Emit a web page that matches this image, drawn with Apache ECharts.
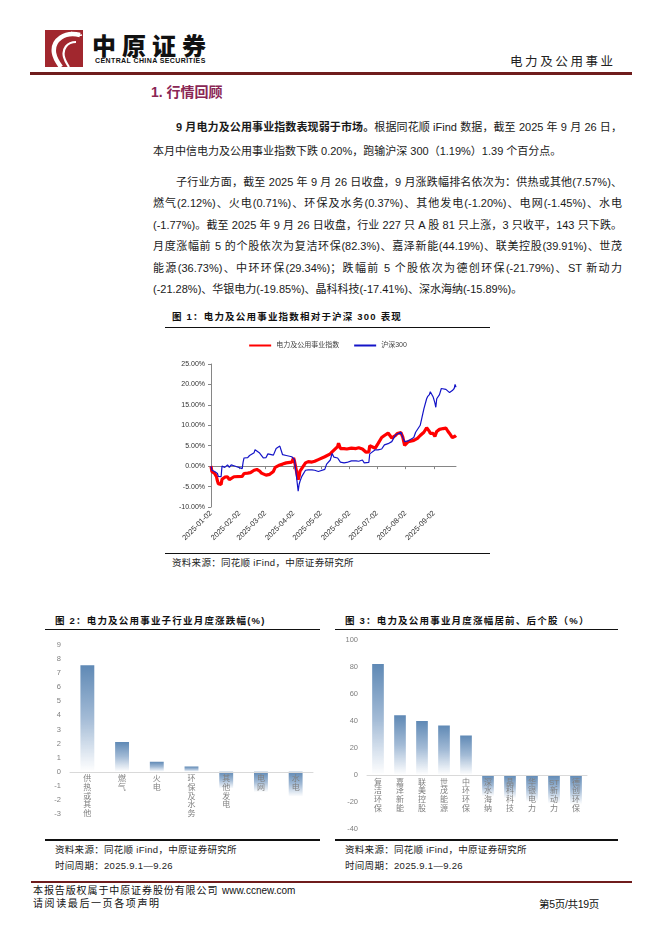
<!DOCTYPE html>
<html>
<head>
<meta charset="utf-8">
<script src="https://cdn.jsdelivr.net/npm/echarts@6/dist/echarts.min.js"></script>
<style>
  html, body { margin:0; padding:0; background:#fff; }
  body { width:662px; height:936px; position:relative; overflow:hidden;
         font-family:"Liberation Sans", "Noto Sans CJK SC", sans-serif; color:#1a1a1a; }
  .abs { position:absolute; white-space:nowrap; }
  .line { position:absolute; font-size:11px; line-height:16px; width:469px; left:153px; text-align:justify; text-align-last:justify; white-space:nowrap; }
  .line.last { text-align-last:left; }
  .ttl { position:absolute; font-size:9.5px; font-weight:bold; letter-spacing:1.2px; line-height:12px; color:#111; }
  .src { position:absolute; font-size:9.5px; letter-spacing:0.3px; line-height:12px; color:#222; }
  .hr { position:absolute; background:#111; }
</style>
</head>
<body>
<!-- header -->
<svg class="abs" style="left:45px;top:30px" width="38" height="37" viewBox="0 0 38 37">
  <rect width="38" height="37" fill="#a1272e"/>
  <path d="M35 5 C 20 1, 7 10, 9 23 C 10 29, 13 33, 16 37" stroke="#fff" stroke-width="4.5" fill="none"/>
  <path d="M31 12 C 22 12, 17 19, 19 27 C 20 31, 22 34, 24 37" stroke="#fff" stroke-width="2.2" fill="none"/>
  <path d="M26 2 C 29 5, 33 6, 37 5" stroke="#fff" stroke-width="1.5" fill="none"/>
</svg>
<div class="abs" style="left:92px;top:33px;font-size:24px;line-height:24px;font-weight:900;letter-spacing:6px;font-family:'Noto Sans CJK SC';color:#111">中原证券</div>
<div class="abs" style="left:95px;top:57px;font-size:7px;line-height:8px;font-weight:bold;letter-spacing:0.4px;color:#111">CENTRAL CHINA SECURITIES</div>
<div class="abs" style="left:510px;top:53px;font-size:12.5px;line-height:16px;letter-spacing:2.6px;color:#222;font-family:'Noto Sans CJK SC'">电力及公用事业</div>
<div class="abs" style="left:30px;top:72px;width:602px;height:2.5px;background:#6f1c1c"></div>

<div class="abs" style="left:151px;top:83px;font-size:14px;line-height:18px;font-weight:bold;color:#8a2654">1. 行情回顾</div>

<!-- body text -->
<div class="line" style="top:119px;left:176px;width:446px"><b>9 月电力及公用事业指数表现弱于市场。</b>根据同花顺 iFind 数据，截至 2025 年 9 月 26 日，</div>
<div class="line last" style="top:143px">本月中信电力及公用事业指数下跌 0.20%，跑输沪深 300（1.19%）1.39 个百分点。</div>

<div class="line" style="top:174px;left:176px;width:446px">子行业方面，截至 2025 年 9 月 26 日收盘，9 月涨跌幅排名依次为：供热或其他(7.57%)、</div>
<div class="line" style="top:195px">燃气(2.12%)、火电(0.71%)、环保及水务(0.37%)、其他发电(-1.20%)、电网(-1.45%)、水电</div>
<div class="line" style="top:217px">(-1.77%)。截至 2025 年 9 月 26 日收盘，行业 227 只 A 股 81 只上涨，3 只收平，143 只下跌。</div>
<div class="line" style="top:238px">月度涨幅前 5 的个股依次为复洁环保(82.3%)、嘉泽新能(44.19%)、联美控股(39.91%)、世茂</div>
<div class="line" style="top:260px">能源(36.73%)、中环环保(29.34%)；跌幅前 5 个股依次为德创环保(-21.79%)、ST 新动力</div>
<div class="line last" style="top:281px">(-21.28%)、华银电力(-19.85%)、晶科科技(-17.41%)、深水海纳(-15.89%)。</div>

<!-- figure 1 -->
<div class="ttl" style="left:172px;top:311px">图 1：电力及公用事业指数相对于沪深 300 表现</div>
<div class="hr" style="left:165px;top:327px;width:325px;height:1.3px"></div>
<div id="c1" class="abs" style="left:160px;top:330px;width:335px;height:222px"></div>
<div class="hr" style="left:165px;top:553px;width:325px;height:1.3px"></div>
<div class="src" style="left:172px;top:557px">资料来源：同花顺 iFind，中原证券研究所</div>

<!-- figure 2 -->
<div class="ttl" style="left:55px;top:615px">图 2：电力及公用事业子行业月度涨跌幅(%)</div>
<div class="hr" style="left:45px;top:629px;width:275px;height:1.3px"></div>
<div id="c2" class="abs" style="left:45px;top:632px;width:280px;height:205px"></div>
<div class="hr" style="left:45px;top:839px;width:275px;height:2.2px"></div>
<div class="src" style="left:55px;top:844px">资料来源：同花顺 iFind，中原证券研究所</div>
<div class="src" style="left:55px;top:860px">时间周期：2025.9.1—9.26</div>

<!-- figure 3 -->
<div class="ttl" style="left:345px;top:615px">图 3：电力及公用事业月度涨幅居前、后个股（%）</div>
<div class="hr" style="left:335px;top:629px;width:283px;height:1.3px"></div>
<div id="c3" class="abs" style="left:335px;top:632px;width:285px;height:205px"></div>
<div class="hr" style="left:335px;top:839px;width:283px;height:2.2px"></div>
<div class="src" style="left:345px;top:844px">资料来源：同花顺 iFind，中原证券研究所</div>
<div class="src" style="left:345px;top:860px">时间周期：2025.9.1—9.26</div>

<!-- footer -->
<div class="abs" style="left:31px;top:881px;width:601px;height:1.5px;background:#6f1c1c"></div>
<div class="abs" style="left:33px;top:884px;font-size:10px;line-height:13px;letter-spacing:0.9px;color:#111">本报告版权属于中原证券股份有限公司 <span style="letter-spacing:0">www.ccnew.com</span></div>
<div class="abs" style="left:33px;top:897px;font-size:10px;line-height:13px;letter-spacing:1.6px;color:#111">请阅读最后一页各项声明</div>
<div class="abs" style="left:539px;top:897px;font-size:10.5px;line-height:14px;color:#111;letter-spacing:-0.3px">第5页/共19页</div>

<script>
// ---------- Figure 1 data ----------
var tradeDates = ["2025-01-02","2025-01-03","2025-01-06","2025-01-07","2025-01-08","2025-01-09","2025-01-10","2025-01-13","2025-01-14","2025-01-15","2025-01-17","2025-01-20","2025-01-22","2025-01-24","2025-01-27",
"2025-02-05","2025-02-06","2025-02-07","2025-02-11","2025-02-13","2025-02-14","2025-02-18","2025-02-19","2025-02-21","2025-02-24","2025-02-26","2025-02-28",
"2025-03-03","2025-03-05","2025-03-07","2025-03-11","2025-03-13","2025-03-14","2025-03-18","2025-03-20","2025-03-21","2025-03-25","2025-03-27","2025-03-31",
"2025-04-02","2025-04-03","2025-04-07","2025-04-08","2025-04-09","2025-04-11","2025-04-15","2025-04-18","2025-04-22","2025-04-25","2025-04-29",
"2025-05-06","2025-05-08","2025-05-12","2025-05-14","2025-05-16","2025-05-20","2025-05-21","2025-05-23","2025-05-27","2025-05-30",
"2025-06-04","2025-06-09","2025-06-12","2025-06-16","2025-06-18","2025-06-20","2025-06-23","2025-06-24","2025-06-26","2025-06-30",
"2025-07-03","2025-07-07","2025-07-10","2025-07-14","2025-07-16","2025-07-18","2025-07-22","2025-07-24","2025-07-28","2025-07-30",
"2025-08-01","2025-08-05","2025-08-07","2025-08-11","2025-08-13","2025-08-15","2025-08-18","2025-08-20","2025-08-22","2025-08-25","2025-08-26","2025-08-28","2025-08-29",
"2025-09-01","2025-09-03","2025-09-04","2025-09-05","2025-09-08","2025-09-10","2025-09-12","2025-09-15","2025-09-17","2025-09-19","2025-09-22","2025-09-24","2025-09-25","2025-09-26"];
var csi300 = [0,-1.0,-1.3,-0.9,-1.2,-1.8,-2.5,-2.6,0.0,-0.2,-0.3,0.3,-0.3,0.3,0.1,
-0.6,1.0,2.0,2.1,2.6,2.5,3.3,4.0,4.1,3.2,2.9,2.0,
2.1,3.0,3.1,2.7,2.6,4.3,4.9,4.6,2.8,2.6,2.4,2.3,
2.2,1.6,-6.1,-4.5,-3.7,-2.5,-1.0,-0.9,-0.9,-1.0,-1.3,
-0.8,0.5,1.5,3.1,2.2,2.0,1.8,1.0,0.8,0.9,
1.3,1.3,1.2,1.5,0.8,0.8,0.9,3.0,3.2,4.0,
4.0,4.2,5.2,5.5,5.3,6.0,7.6,8.0,8.3,7.0,
6.0,6.2,6.4,7.0,8.3,8.5,10.0,12.0,14.0,16.5,17.0,17.5,18.2,
17.0,15.5,14.4,16.5,17.5,19.0,18.8,18.8,18.5,18.0,18.5,19.0,20.0,19.3];
var utilityIdx = [0,-1.3,-1.8,-2.1,-2.6,-3.6,-4.3,-4.5,-3.2,-2.8,-2.7,-2.6,-3.3,-3.0,-2.6,
-2.5,-2.1,-1.8,-1.7,-1.5,-1.6,-1.0,-0.9,-0.8,-1.2,-1.7,-1.8,
-2.2,-2.3,-2.0,-1.3,-0.3,0.0,0.3,0.4,0.5,0.8,1.0,1.0,
2.0,1.2,-3.3,-2.5,-1.2,-0.9,0.8,1.1,1.0,1.2,1.6,
2.3,2.1,3.0,3.5,3.4,4.8,5.6,4.3,4.3,4.2,
4.4,4.3,4.5,4.2,4.5,3.4,3.5,5.0,5.1,4.4,
5.5,7.0,7.5,8.1,7.5,6.9,7.5,8.0,8.2,7.1,
5.1,6.0,6.4,6.3,6.6,6.8,7.5,7.8,8.3,9.4,9.6,8.5,8.0,
8.0,7.3,7.5,8.5,9.0,9.3,9.2,9.3,8.6,8.0,7.0,6.8,7.3,7.5];
var xTickLabels = ["2025-01-02","2025-02-02","2025-03-02","2025-04-02","2025-05-02","2025-06-02","2025-07-02","2025-08-02","2025-09-02"];
var seriesNames = ["电力及公用事业指数","沪深300"];

// ---------- Figure 2 data ----------
var subIndustries = ["供热或其他","燃气","火电","环保及水务","其他发电","电网","水电"];
var subReturns = [7.57, 2.12, 0.71, 0.37, -1.20, -1.45, -1.77];

// ---------- Figure 3 data ----------
var stocks = ["复洁环保","嘉泽新能","联美控股","世茂能源","中环环保","深水海纳","晶科科技","华银电力","ST新动力","德创环保"];
var stockReturns = [82.3, 44.19, 39.91, 36.73, 29.34, -15.89, -17.41, -19.85, -21.28, -21.79];

function parseLocal(s){ var p=s.split('-'); return new Date(+p[0], +p[1]-1, +p[2]).getTime(); }
function pad(n){ return (n<10?'0':'')+n; }
function fmtDate(v){ var d=new Date(v); return d.getFullYear()+'-'+pad(d.getMonth()+1)+'-'+pad(d.getDate()); }
function vertical(s){
  var out=[], i=0;
  while(i<s.length){
    if(/[A-Za-z]/.test(s[i])){ var j=i; while(j<s.length && /[A-Za-z]/.test(s[j])) j++; out.push(s.slice(i,j)); i=j; }
    else { out.push(s[i]); i++; }
  }
  return out.join('\n');
}
var FONT = '"Liberation Sans", "Noto Sans CJK SC", sans-serif';
var tickVals = xTickLabels.map(parseLocal);

var c1 = echarts.init(document.getElementById('c1'));
c1.setOption({
  animation:false,
  textStyle:{fontFamily:FONT},
  legend:{ top:7, left:'center', itemWidth:22, itemHeight:8, itemGap:14,
    itemStyle:{opacity:0},
    textStyle:{fontSize:7, color:'#404040', fontFamily:FONT},
    data:seriesNames },
  grid:{ left:51, right:39, top:34, bottom:45, outerBoundsMode:'none', containLabel:false },
  xAxis:{ type:'value', min:parseLocal('2025-01-02'), max:parseLocal('2025-09-26'),
    axisLine:{lineStyle:{color:'#868686', width:1}},
    axisTick:{show:true, length:3, lineStyle:{color:'#868686'}, customValues:tickVals},
    axisLabel:{ rotate:45, fontSize:7.5, color:'#333', margin:5, customValues:tickVals,
      formatter:function(v){ return fmtDate(v); } },
    splitLine:{show:false} },
  yAxis:{ type:'value', min:-10, max:25, interval:5,
    axisLine:{show:true, lineStyle:{color:'#868686'}},
    axisTick:{show:true, length:3, lineStyle:{color:'#868686'}},
    axisLabel:{ fontSize:7, color:'#333', margin:6, formatter:function(v){ return v.toFixed(2)+'%'; } },
    splitLine:{show:false} },
  series:[
    { name:seriesNames[0], type:'line', symbol:'none', z:2,
      lineStyle:{color:'#ff0000', width:3.2}, itemStyle:{color:'#ff0000'},
      data:tradeDates.map(function(d,i){ return [parseLocal(d), utilityIdx[i]]; }) },
    { name:seriesNames[1], type:'line', symbol:'none', z:3,
      lineStyle:{color:'#1414c8', width:1.2}, itemStyle:{color:'#1414c8'},
      data:tradeDates.map(function(d,i){ return [parseLocal(d), csi300[i]]; }) }
  ]
});

function barGrad(){
  return new echarts.graphic.LinearGradient(0,0,0,1,[
    {offset:0, color:'#5f89b5'},
    {offset:0.5, color:'#a3bbd6'},
    {offset:1, color:'rgba(255,255,255,0.95)'}
  ]);
}

function barChart(el, cats, vals, yMin, yMax, yInt, grid, barWidth){
  var ch = echarts.init(el);
  ch.setOption({
    animation:false,
    textStyle:{fontFamily:FONT},
    grid:Object.assign({ outerBoundsMode:'none', containLabel:false }, grid),
    xAxis:{ type:'category', data:cats, z:5,
      axisLine:{onZero:false, lineStyle:{color:'#d9d9d9'}}, axisTick:{show:false},
      axisLabel:{ interval:0, fontSize:8, lineHeight:8.7, color:'#7f7f7f', margin:3,
        formatter:function(v){ return vertical(v); } } },
    yAxis:{ type:'value', min:yMin, max:yMax, interval:yInt,
      axisLine:{show:false}, axisTick:{show:false}, splitLine:{show:false},
      axisLabel:{ fontSize:7.5, color:'#7f7f7f', margin:9 } },
    series:[{ type:'bar', barWidth:barWidth, data:vals, z:2, itemStyle:{color:barGrad()} }]
  });
  // place the category axis (line + labels) on the zero value of the value scale
  var pZero = ch.convertToPixel({yAxisIndex:0}, 0);
  var pMin = ch.convertToPixel({yAxisIndex:0}, yMin);
  ch.setOption({ xAxis:{ offset: -(pMin - pZero) } });
  return ch;
}

barChart(document.getElementById('c2'), subIndustries, subReturns, -3, 9, 1,
  { left:25, right:12, top:13, bottom:23 }, '40%');
barChart(document.getElementById('c3'), stocks, stockReturns, -40, 100, 20,
  { left:32, right:33, top:8, bottom:8 }, '53%');
</script>
</body>
</html>
